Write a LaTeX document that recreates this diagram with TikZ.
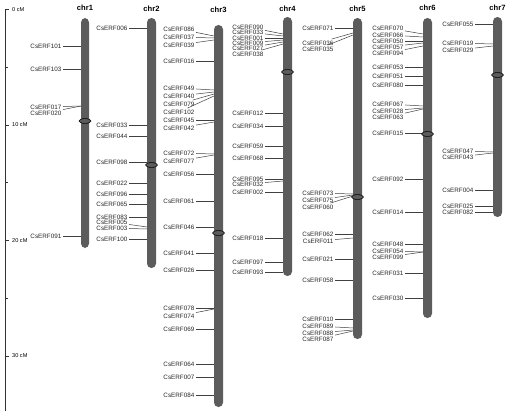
\documentclass[tikz,border=0pt]{standalone}
\usepackage{fontspec}
\setmainfont{Liberation Sans}
\usetikzlibrary{positioning}
\definecolor{chromgray}{RGB}{92,92,92}

\begin{document}
\begin{tikzpicture}[x=1pt, y=-1pt,
    chrom/.style={fill=chromgray, rounded corners=4.4pt},
    cent/.style={fill=chromgray, draw=black, line width=0.6pt},
    gene/.style={anchor=east, inner sep=1.5pt, font=\fontsize{6.3}{7}\selectfont, text=black!85},
    link/.style={draw=black!75, line width=0.5pt},
    title/.style={font=\fontsize{7.6}{8}\selectfont\bfseries},
    scalelbl/.style={anchor=west, inner sep=0pt, font=\fontsize{5.6}{6}\selectfont},
    tick/.style={draw=black!80, line width=0.6pt}
  ]
  \useasboundingbox (0,0) rectangle (510,411);

  % scale bar
  \draw[tick] (5,9.5) -- (5,411);
  \foreach \c/\y in {0/9.5, 10/125, 20/240.5, 30/356}{
    \draw[tick] (5,\y) -- (9,\y);
    \node[scalelbl] (cm\c) at (12,\y) {\c\ cM};
  }
  \foreach \y in {67.25, 182.75, 298.25}
    \draw[tick] (5,\y) -- (8,\y);

  % chr1
  \fill[chrom] (81,18) rectangle (89,248);
  \node[title] (chr1) at (85,8) {chr1};
  \foreach \n/\ly/\cy in {101/46/46, 103/69/69, 017/107/106, 020/113/106, 091/236/236}{
    \node[gene] (a\n) at (63,\ly) {CsERF\n};
    \coordinate (at\n) at (81,\cy);
    \draw[link] (a\n) -- (at\n);
  }
  \draw[cent] (85,121) ellipse [x radius=6, y radius=2.4];

  % chr2
  \fill[chrom] (147,18) rectangle (156,268);
  \node[title] (chr2) at (151.5,9) {chr2};
  \foreach \n/\ly/\cy in {006/28/28, 033/125/125, 044/136/136, 098/162/162, 022/183/183,
      096/194/194, 065/204/204, 083/217/217, 005/222/227, 003/228/229, 100/239/239}{
    \node[gene] (b\n) at (129,\ly) {CsERF\n};
    \coordinate (bt\n) at (147,\cy);
    \draw[link] (b\n) -- (bt\n);
  }
  \draw[cent] (151.5,165) ellipse [x radius=6, y radius=2.4];

  % chr3
  \fill[chrom] (214,25) rectangle (223,407);
  \node[title] (chr3) at (218.5,10) {chr3};
  \foreach \n/\ly/\cy in {086/29/36, 037/37/38, 039/45/40, 016/61/61, 049/88/90, 040/96/92,
      079/104/94, 102/112/96, 045/120/120, 042/128/122, 072/153/154, 077/161/155,
      056/174/174, 061/201/201, 046/227/227, 041/253/253, 026/270/270, 078/308/308,
      074/316/309, 069/329/329, 064/364/364, 007/377/377, 084/395/395}{
    \node[gene] (c\n) at (196,\ly) {CsERF\n};
    \coordinate (ct\n) at (214,\cy);
    \draw[link] (c\n) -- (ct\n);
  }
  \draw[cent] (218.5,233) ellipse [x radius=6, y radius=2.4];

  % chr4
  \fill[chrom] (283,17) rectangle (292,276);
  \node[title] (chr4) at (287.5,9) {chr4};
  \foreach \n/\ly/\cy in {090/27/34, 033/32/36, 001/38/38, 009/43/40, 027/48/42, 038/54/44,
      012/113/113, 034/126/126, 059/146/146, 068/158/158, 095/179/179, 032/184/181,
      002/192/192, 018/238/238, 097/262/262, 093/272/272}{
    \node[gene] (d\n) at (265,\ly) {CsERF\n};
    \coordinate (dt\n) at (283,\cy);
    \draw[link] (d\n) -- (dt\n);
  }
  \draw[cent] (287.5,72) ellipse [x radius=6, y radius=2.4];

  % chr5
  \fill[chrom] (353,18) rectangle (362,339);
  \node[title] (chr5) at (357.5,9) {chr5};
  \foreach \n/\ly/\cy in {071/28/28, 036/43/33, 035/49/35, 073/193/194, 075/200/195,
      060/207/196, 062/234/234, 011/241/238, 021/259/259, 058/280/280, 010/319/319,
      089/326/328, 088/333/330, 087/339/331}{
    \node[gene] (e\n) at (335,\ly) {CsERF\n};
    \coordinate (et\n) at (353,\cy);
    \draw[link] (e\n) -- (et\n);
  }
  \draw[cent] (357.5,197) ellipse [x radius=6, y radius=2.4];

  % chr6
  \fill[chrom] (423,18) rectangle (432,318);
  \node[title] (chr6) at (427.5,8) {chr6};
  \foreach \n/\ly/\cy in {070/28/34, 066/35/37, 050/41/41, 057/47/43, 094/53/46,
      053/67/67, 051/76/76, 080/85/85, 067/104/106, 028/111/108, 063/117/109,
      015/133/133, 092/179/179, 014/212/212, 048/244/244, 054/251/252, 099/257/252,
      031/273/273, 030/298/298}{
    \node[gene] (f\n) at (405,\ly) {CsERF\n};
    \coordinate (ft\n) at (423,\cy);
    \draw[link] (f\n) -- (ft\n);
  }
  \draw[cent] (427.5,134) ellipse [x radius=6, y radius=2.4];

  % chr7
  \fill[chrom] (493,17) rectangle (502,217);
  \node[title] (chr7) at (497.5,8) {chr7};
  \foreach \n/\ly/\cy in {055/24/24, 019/43/44, 029/50/46, 047/151/152, 043/157/153,
      004/190/190, 025/206/206, 082/212/212}{
    \node[gene] (g\n) at (475,\ly) {CsERF\n};
    \coordinate (gt\n) at (493,\cy);
    \draw[link] (g\n) -- (gt\n);
  }
  \draw[cent] (497.5,75) ellipse [x radius=6, y radius=2.4];
\end{tikzpicture}
\end{document}
